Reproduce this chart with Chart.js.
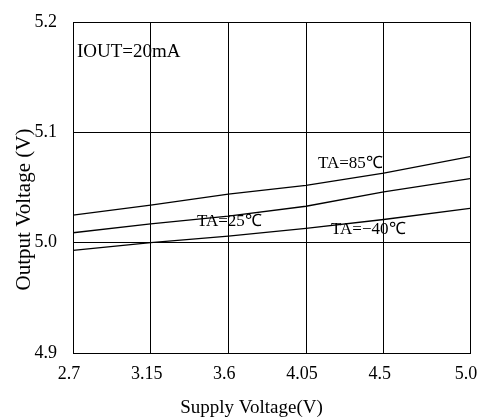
<!DOCTYPE html>
<html>
<head>
<meta charset="utf-8">
<script src="https://cdn.jsdelivr.net/npm/chart.js@4"></script>
<style>
  body { margin: 0; background: #fff; }
  #wrap { width: 481px; height: 419px; }
</style>
</head>
<body>
<div id="wrap"><canvas id="myChart"></canvas></div>
<script>
// supply voltage points (x) and output voltage per temperature
const supplyV = [2.7, 3.15, 3.6, 4.05, 4.5, 5.0];
const ta85 = [5.025, 5.034, 5.044, 5.052, 5.063, 5.078];
const ta25 = [5.009, 5.017, 5.024, 5.033, 5.046, 5.058];
const taM40 = [4.993, 5.000, 5.006, 5.013, 5.021, 5.031];

const xTicks = [2.7, 3.15, 3.6, 4.05, 4.5, 5.0];
const xLabels = ['2.7', '3.15', '3.6', '4.05', '4.5', '5.0'];
const yTicks = [4.9, 5.0, 5.1, 5.2];
const yLabels = ['4.9', '5.0', '5.1', '5.2'];

const serif = '"Liberation Serif", "Times New Roman", serif';

function pts(ys) {
  return supplyV.map((x, i) => ({ x: x, y: ys[i] }));
}

function line(label, ys) {
  return {
    label: label,
    data: pts(ys),
    borderColor: '#000',
    borderWidth: 1.3,
    pointRadius: 0,
    tension: 0,
    fill: false
  };
}

const data = {
  datasets: [
    line('TA=85℃', ta85),
    line('TA=25℃', ta25),
    line('TA=-40℃', taM40)
  ]
};

// text drawn on the plot: note, curve labels, axis titles
const notes = [
  { text: 'IOUT=20mA', x: 2.723, y: 5.173, size: 19 },
  { text: 'TA=85℃', x: 4.119, y: 5.072, size: 17 },
  { text: 'TA=25℃', x: 3.418, y: 5.019, size: 17 },
  { text: 'TA=−40℃', x: 4.195, y: 5.012, size: 17 }
];

const textPlugin = {
  id: 'textPlugin',
  afterDatasetsDraw(chart) {
    const ctx = chart.ctx;
    const xs = chart.scales.x;
    const ys = chart.scales.y;
    ctx.save();
    ctx.fillStyle = '#000';
    ctx.textBaseline = 'middle';
    ctx.textAlign = 'left';
    notes.forEach(n => {
      ctx.font = n.size + 'px ' + serif;
      ctx.fillText(n.text, xs.getPixelForValue(n.x), ys.getPixelForValue(n.y));
    });
    // axis titles, centred on the canvas like the original
    ctx.textAlign = 'center';
    ctx.font = '19px ' + serif;
    ctx.fillText('Supply Voltage(V)', chart.width / 2 + 11, 408);
    ctx.translate(24, chart.height / 2);
    ctx.rotate(-Math.PI / 2);
    ctx.font = '21px ' + serif;
    ctx.fillText('Output Voltage (V)', 0, 0);
    ctx.restore();
  }
};

const config = {
  type: 'line',
  data: data,
  options: {
    responsive: true,
    maintainAspectRatio: false,
    animation: false,
    layout: { padding: { top: 22, right: 11, left: 0, bottom: 0 } },
    plugins: {
      legend: { display: false },
      tooltip: { enabled: false }
    },
    scales: {
      x: {
        type: 'linear',
        min: 2.7,
        max: 5.0,
        afterBuildTicks: s => { s.ticks = xTicks.map(v => ({ value: v })); },
        afterFit: s => { s.height = 66; s.paddingLeft = 0; s.paddingRight = 0; },
        ticks: {
          color: '#000',
          font: { family: serif, size: 18 },
          padding: 10,
          labelOffset: -4,
          maxRotation: 0,
          autoSkip: false,
          callback: (v, i) => xLabels[i]
        },
        grid: { color: '#000', lineWidth: 1, drawTicks: false },
        border: { color: '#000', width: 1 }
      },
      y: {
        min: 4.9,
        max: 5.2,
        afterBuildTicks: s => { s.ticks = yTicks.map(v => ({ value: v })); },
        afterFit: s => { s.width = 73; s.paddingTop = 0; s.paddingBottom = 0; },
        ticks: {
          color: '#000',
          font: { family: serif, size: 18 },
          padding: 16,
          autoSkip: false,
          callback: (v, i) => yLabels[i]
        },
        grid: { color: '#000', lineWidth: 1, drawTicks: false },
        border: { color: '#000', width: 1 }
      }
    }
  },
  plugins: [textPlugin]
};

const myChart = new Chart(document.getElementById('myChart'), config);
</script>
</body>
</html>
